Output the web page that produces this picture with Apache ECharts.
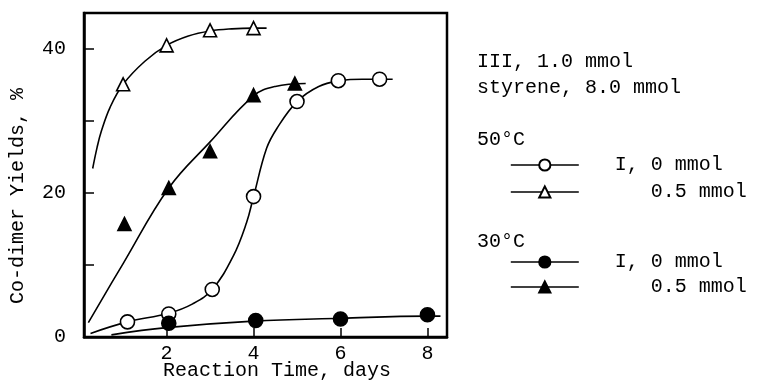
<!DOCTYPE html>
<html>
<head>
<meta charset="utf-8">
<script src="https://cdn.jsdelivr.net/npm/echarts@6/dist/echarts.min.js"></script>
<style>
  html, body { margin: 0; padding: 0; background: #fff; }
  #main { width: 762px; height: 390px; }
</style>
</head>
<body>
<div id="main"></div>
<script>
// measured points (days, yield %)
var openTriDays = [1, 2, 3, 4];
var openTriYield = [35.1, 40.5, 42.6, 42.9];
var openCircDays = [1.1, 2.05, 3.05, 4, 5, 5.95, 6.9];
var openCircYield = [2.1, 3.2, 6.6, 19.5, 32.7, 35.6, 35.8];
var fillTriDays = [1.03, 2.05, 3, 4, 4.95];
var fillTriYield = [15.7, 20.7, 25.8, 33.6, 35.2];
var fillCircDays = [2.05, 4.05, 6, 8];
var fillCircYield = [1.9, 2.3, 2.5, 3.1];

// hand drawn curves
var openTriCurveX = [0.3, 0.4, 0.5, 0.7, 1, 1.5, 2, 2.5, 3, 3.5, 4, 4.3];
var openTriCurveY = [23.4, 26.3, 28.6, 31.9, 35.1, 38.3, 40.5, 41.8, 42.5, 42.8, 42.9, 42.9];
var openCircCurveX = [0.25, 1.1, 2.05, 2.6, 3.05, 3.53, 3.84, 4, 4.3, 4.54, 5, 5.5, 6, 6.5, 7.2];
var openCircCurveY = [0.5, 2.1, 3.3, 4.6, 6.6, 11.2, 15.9, 19.5, 26.2, 29, 32.7, 34.8, 35.6, 35.8, 35.8];
var fillTriCurveX = [0.2, 1, 2.05, 3, 4, 4.5, 5.2];
var fillTriCurveY = [2.0, 10.2, 20.7, 27.1, 33.5, 34.8, 35.2];
var fillCircCurveX = [0.73, 2, 4, 6, 8, 8.3];
var fillCircCurveY = [0.3, 1.3, 2.2, 2.6, 2.9, 2.9];

var xTicks = [2, 4, 6, 8];
var yLabels = [0, 20, 40];
var yTicks = [10, 20, 30, 40];

var FONT = 'Liberation Mono';

function pairs(xs, ys) {
    var out = [];
    for (var i = 0; i < xs.length; i++) {
        out.push([xs[i], ys[i]]);
    }
    return out;
}

function curve(xs, ys) {
    return {
        type: 'line',
        data: pairs(xs, ys),
        smooth: 0.4,
        showSymbol: false,
        silent: true,
        z: 2,
        lineStyle: { color: '#000', width: 1.6 }
    };
}

function marks(name, xs, ys, symbol, size, filled) {
    return {
        type: 'line',
        name: name,
        data: pairs(xs, ys),
        symbol: symbol,
        symbolSize: size,
        showAllSymbol: true,
        z: 5,
        lineStyle: { width: 0, opacity: 0 },
        itemStyle: {
            color: filled ? '#000' : '#fff',
            borderColor: '#000',
            borderWidth: 1.6
        }
    };
}

function legendBox(top, names) {
    return {
        orient: 'vertical',
        left: 510,
        top: top,
        padding: 0,
        itemWidth: 68,
        itemHeight: 14,
        itemGap: names[0] === '50 I0' ? 7 : 5,
        selectedMode: false,
        data: names,
        formatter: function (n) { return n.indexOf('I05') > 0 ? '   0.5 mmol' : 'I, 0 mmol'; },
        lineStyle: { color: '#000', width: 1.6, opacity: 1 },
        textStyle: { fontFamily: FONT, fontSize: 20, color: '#000', lineHeight: 20, padding: [0, 0, 0, 31] }
    };
}

var myChart = echarts.init(document.getElementById('main'));
var option = {
    backgroundColor: '#fff',
    animation: false,
    textStyle: { fontFamily: FONT, color: '#000' },
    grid: {
        left: 84, right: 315, top: 13, bottom: 53,
        show: true,
        borderColor: '#000',
        borderWidth: 2.5
    },
    xAxis: {
        type: 'value',
        min: 0.1,
        max: 8.45,
        axisLine: { show: true, lineStyle: { color: '#000', width: 2.5 } },
        axisTick: { show: true, inside: true, length: 9, customValues: xTicks, lineStyle: { color: '#000', width: 1.5 } },
        axisLabel: { customValues: xTicks, fontFamily: FONT, fontSize: 20, color: '#000', margin: 7 },
        splitLine: { show: false }
    },
    yAxis: {
        type: 'value',
        min: 0,
        max: 45,
        axisLine: { show: true, lineStyle: { color: '#000', width: 2.5 } },
        axisTick: { show: true, inside: true, length: 10, customValues: yTicks, lineStyle: { color: '#000', width: 1.5 } },
        axisLabel: { customValues: yLabels, fontFamily: FONT, fontSize: 20, color: '#000', margin: 18 },
        splitLine: { show: false }
    },
    legend: [
        legendBox(155, ['50 I0', '50 I05']),
        legendBox(252, ['30 I0', '30 I05'])
    ],
    graphic: [
        { type: 'text', x: 18, y: 196, rotation: Math.PI / 2,
          style: { text: 'Co-dimer Yields, %', font: '20px "Liberation Mono"', fill: '#000', textAlign: 'center', textVerticalAlign: 'middle' } },
        { type: 'text', x: 277, y: 371,
          style: { text: 'Reaction Time, days', font: '20px "Liberation Mono"', fill: '#000', textAlign: 'center', textVerticalAlign: 'middle' } },
        { type: 'text', x: 477, y: 62,
          style: { text: 'III, 1.0 mmol', font: '20px "Liberation Mono"', fill: '#000', textAlign: 'left', textVerticalAlign: 'middle' } },
        { type: 'text', x: 477, y: 88,
          style: { text: 'styrene, 8.0 mmol', font: '20px "Liberation Mono"', fill: '#000', textAlign: 'left', textVerticalAlign: 'middle' } },
        { type: 'text', x: 477, y: 140,
          style: { text: '50°C', font: '20px "Liberation Mono"', fill: '#000', textAlign: 'left', textVerticalAlign: 'middle' } },
        { type: 'text', x: 477, y: 242,
          style: { text: '30°C', font: '20px "Liberation Mono"', fill: '#000', textAlign: 'left', textVerticalAlign: 'middle' } }
    ],
    series: [
        curve(openTriCurveX, openTriCurveY),
        curve(openCircCurveX, openCircCurveY),
        curve(fillTriCurveX, fillTriCurveY),
        curve(fillCircCurveX, fillCircCurveY),
        marks('50 I0', openCircDays, openCircYield, 'circle', 14, false),
        marks('50 I05', openTriDays, openTriYield, 'triangle', 13, false),
        marks('30 I0', fillCircDays, fillCircYield, 'circle', 14, true),
        marks('30 I05', fillTriDays, fillTriYield, 'triangle', 13, true)
    ]
};
myChart.setOption(option);
</script>
</body>
</html>
